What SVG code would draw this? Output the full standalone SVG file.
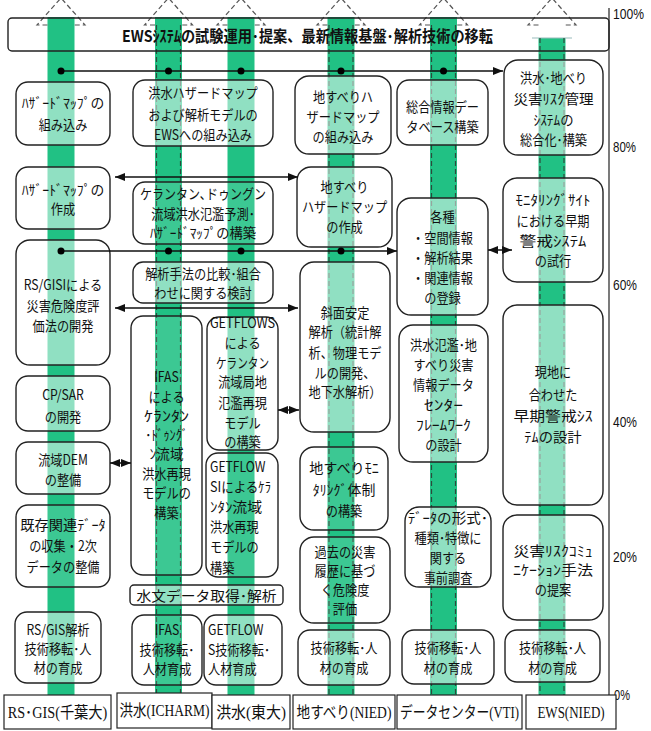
<svg xmlns="http://www.w3.org/2000/svg" width="651" height="731" viewBox="0 0 651 731">
<defs>
<style>
.bar{fill:#21c184}
.dsh{stroke:#2d4a3c;stroke-width:1.2;stroke-dasharray:5 3;fill:none}
.ah{stroke:#555;stroke-width:1.2;stroke-dasharray:5 3;fill:none}
.b{fill:#fff;fill-opacity:.5;stroke:#222;stroke-width:1.4}
.c{fill:#fff;fill-opacity:.12;stroke:#222;stroke-width:1.4}
.t text{font-family:"Noto Sans CJK JP",sans-serif;font-size:14px;text-anchor:middle;fill:#111}
.tl text{font-family:"Noto Sans CJK JP",sans-serif;font-size:14px;text-anchor:start;fill:#111}
.lab rect{fill:#fff;stroke:#222;stroke-width:1.2}
.lab text{font-family:"Liberation Serif","Noto Sans CJK JP",serif;font-size:16px;text-anchor:middle;fill:#111}
.pct{font-family:"Liberation Sans","Noto Sans CJK JP",sans-serif;font-size:15px;fill:#111}
.cn{stroke:#111;stroke-width:1.5;fill:none}
</style>
<marker id="arr" viewBox="0 0 10 8" markerWidth="10" markerHeight="8" refX="10" refY="4" orient="auto-start-reverse" markerUnits="userSpaceOnUse"><path d="M0,0 L10,4 L0,8 z" fill="#111"/></marker>
</defs>
<rect width="651" height="731" fill="#fff"/>

<g id="bars">
<rect class="bar" x="47.5" y="17" width="27" height="678"/>
<rect class="bar" x="155" y="17" width="27" height="678"/>
<rect class="bar" x="227.5" y="17" width="27" height="678"/>
<rect class="bar" x="327.5" y="17" width="27" height="678"/>
<rect class="bar" x="430" y="17" width="27" height="678"/>
<rect class="bar" x="538.5" y="38" width="27" height="657"/>
<line x1="532" y1="38" x2="572" y2="38" stroke="#9bb" stroke-width="1"/>
<polyline class="ah" points="47.5,25 37,25 61,-2 85,25 74.5,25"/>
<polyline class="ah" points="155,25 144.5,25 168.5,-2 192.5,25 182,25"/>
<polyline class="ah" points="227.5,25 217,25 241,-2 265,25 254.5,25"/>
<polyline class="ah" points="327.5,25 317,25 341,-2 365,25 354.5,25"/>
<polyline class="ah" points="430,25 419.5,25 443.5,-2 467.5,25 457,25"/>
<polyline class="ah" points="538.5,25 528,25 552,-2 576,25 565.5,25"/>
<line class="dsh" x1="156.5" y1="25" x2="156.5" y2="695"/>
<line class="dsh" x1="180.5" y1="25" x2="180.5" y2="695"/>
<line class="dsh" x1="329" y1="25" x2="329" y2="695"/>
<line class="dsh" x1="353" y1="25" x2="353" y2="695"/>
<line class="dsh" x1="431.5" y1="25" x2="431.5" y2="695"/>
<line class="dsh" x1="455.5" y1="25" x2="455.5" y2="695"/>
<line class="dsh" x1="540" y1="38" x2="540" y2="695"/>
<line class="dsh" x1="564" y1="38" x2="564" y2="695"/>
</g>

<g id="axis">
<line x1="609" y1="8" x2="609" y2="697" stroke="#222" stroke-width="1.2"/>
<text class="pct" x="613" y="19" textLength="31" lengthAdjust="spacingAndGlyphs">100%</text>
<text class="pct" x="613" y="152" textLength="23" lengthAdjust="spacingAndGlyphs">80%</text>
<text class="pct" x="613" y="290" textLength="24" lengthAdjust="spacingAndGlyphs">60%</text>
<text class="pct" x="613" y="427" textLength="24" lengthAdjust="spacingAndGlyphs">40%</text>
<text class="pct" x="613" y="562" textLength="24" lengthAdjust="spacingAndGlyphs">20%</text>
<text class="pct" x="614" y="700" textLength="16" lengthAdjust="spacingAndGlyphs">0%</text>
</g>

<g id="title">
<rect x="8" y="18" width="601" height="33" rx="4" fill="none" stroke="#222" stroke-width="1.4"/>
<text x="307.5" y="42" font-family="Noto Sans CJK JP,sans-serif" font-size="16" font-weight="bold" text-anchor="middle" textLength="371" lengthAdjust="spacingAndGlyphs" fill="#111">EWSｼｽﾃﾑの試験運用･提案、最新情報基盤･解析技術の移転</text>
</g>

<g id="n1a"><rect class="b" x="16" y="82" width="94" height="63" rx="12"/><g class="t" transform="translate(63,0) scale(.87,1)"><text y="108" textLength="95" lengthAdjust="spacingAndGlyphs">ﾊｻﾞｰﾄﾞﾏｯﾌﾟの</text><text y="130">組み込み</text></g></g>
<g id="n1b"><rect class="b" x="16" y="167" width="94" height="62" rx="12"/><g class="t" transform="translate(63,0) scale(.87,1)"><text y="195" textLength="95" lengthAdjust="spacingAndGlyphs">ﾊｻﾞｰﾄﾞﾏｯﾌﾟの</text><text y="214">作成</text></g></g>
<g id="n1c"><rect class="b" x="16" y="240" width="94" height="125" rx="14"/><g class="t" transform="translate(63,0) scale(.87,1)"><text y="290">RS/GISIによる</text><text y="311">災害危険度評</text><text y="331">価法の開発</text></g></g>
<g id="n1d"><rect class="b" x="16" y="376" width="94" height="55" rx="12"/><g class="t" transform="translate(63,0) scale(.87,1)"><text y="400">CP/SAR</text><text y="422">の開発</text></g></g>
<g id="n1e"><rect class="b" x="16" y="442" width="94" height="52" rx="12"/><g class="t" transform="translate(63,0) scale(.87,1)"><text y="465">流域DEM</text><text y="485">の整備</text></g></g>
<g id="n1f"><rect class="c" x="16" y="505" width="94" height="82" rx="12"/><g class="t" transform="translate(63,0) scale(.87,1)"><text y="530" textLength="98" lengthAdjust="spacingAndGlyphs">既存関連ﾃﾞｰﾀ</text><text y="551">の収集・2次</text><text y="572">データの整備</text></g></g>
<g id="n1g"><rect class="b" x="15" y="612" width="86" height="71" rx="12"/><g class="t" transform="translate(58,0) scale(.87,1)"><text y="635">RS/GIS解析</text><text y="654">技術移転･人</text><text y="673">材の育成</text></g></g>

<g id="n2a"><rect class="b" x="133" y="80" width="140" height="66" rx="12"/><g class="t" transform="translate(203,0) scale(.87,1)"><text y="98">洪水ハザードマップ</text><text y="120">および解析モデルの</text><text y="140">EWSへの組み込み</text></g></g>
<g id="n2b"><rect class="c" x="133" y="182" width="140" height="62" rx="12"/><g class="t" transform="translate(203,0) scale(.87,1)"><text y="199" textLength="145" lengthAdjust="spacingAndGlyphs">ケランタン､ドゥングン</text><text y="219">流域洪水氾濫予測･</text><text y="238" textLength="122" lengthAdjust="spacingAndGlyphs">ﾊｻﾞｰﾄﾞﾏｯﾌﾟの構築</text></g></g>
<g id="n2c"><rect class="b" x="133" y="262" width="140" height="41" rx="10"/><g class="t" transform="translate(203,0) scale(.87,1)"><text y="279">解析手法の比較･組合</text><text y="298">わせに関する検討</text></g></g>
<g id="n2d"><rect class="c" x="131" y="316" width="71" height="259" rx="12"/><g class="t" transform="translate(166.5,0) scale(.87,1)"><text y="382">IFAS</text><text y="402">による</text><text y="421" textLength="52" lengthAdjust="spacingAndGlyphs">ｹﾗﾝﾀﾝ</text><text y="440" textLength="49" lengthAdjust="spacingAndGlyphs">･ﾄﾞｩﾝｸﾞ</text><text y="459" textLength="39" lengthAdjust="spacingAndGlyphs">ﾝ流域</text><text y="479">洪水再現</text><text y="498">モデルの</text><text y="518">構築</text></g></g>
<g id="n3a"><rect class="b" x="207" y="317" width="71" height="133" rx="12"/><g class="t" transform="translate(242.5,0) scale(.87,1)"><text y="328" textLength="75" lengthAdjust="spacingAndGlyphs">GETFLOWS</text><text y="348">による</text><text y="368" textLength="61" lengthAdjust="spacingAndGlyphs">ケランタン</text><text y="387">流域局地</text><text y="408">氾濫再現</text><text y="428">モデル</text><text y="447">の構築</text></g></g>
<g id="n3b"><rect class="c" x="206" y="453" width="72" height="124" rx="12"/><g class="tl" transform="translate(210,0) scale(.87,1)"><text y="472">GETFLOW</text><text y="492" textLength="70" lengthAdjust="spacingAndGlyphs">SIによるｹﾗ</text><text y="512" textLength="60" lengthAdjust="spacingAndGlyphs">ﾝﾀﾝ流域</text><text y="532">洪水再現</text><text y="552">モデルの</text><text y="573">構築</text></g></g>
<g id="n2e"><rect class="b" x="130" y="585" width="153" height="20" rx="4"/><g class="t" transform="translate(206.5,0) scale(.87,1)"><text y="601" textLength="161" lengthAdjust="spacingAndGlyphs">水文データ取得･解析</text></g></g>
<g id="n2f"><rect class="c" x="132" y="615" width="70" height="70" rx="12"/><g class="t" transform="translate(167,0) scale(.87,1)"><text y="635">IFAS</text><text y="655">技術移転･</text><text y="674">人材育成</text></g></g>
<g id="n3c"><rect class="b" x="204" y="615" width="78" height="70" rx="12"/><g class="tl" transform="translate(208,0) scale(.87,1)"><text y="635">GETFLOW</text><text y="655">S技術移転･</text><text y="674">人材育成</text></g></g>

<g id="n4a"><rect class="b" x="295" y="76" width="96" height="78" rx="14"/><g class="t" transform="translate(343,0) scale(.87,1)"><text y="102">地すべりハ</text><text y="122">ザードマップ</text><text y="142">の組み込み</text></g></g>
<g id="n4b"><rect class="b" x="297" y="167" width="95" height="80" rx="14"/><g class="t" transform="translate(344.5,0) scale(.87,1)"><text y="192">地すべり</text><text y="212">ハザードマップ</text><text y="232">の作成</text></g></g>
<g id="n4c"><rect class="b" x="300" y="262" width="90" height="170" rx="14"/><g class="t" transform="translate(345,0) scale(.87,1)"><text y="318">斜面安定</text><text y="337">解析（統計解</text><text y="358">析、物理モデ</text><text y="378">ルの開発、</text><text y="397">地下水解析）</text></g></g>
<g id="n4d"><rect class="c" x="300" y="447" width="88" height="83" rx="14"/><g class="t" transform="translate(344,0) scale(.87,1)"><text y="473" textLength="80" lengthAdjust="spacingAndGlyphs">地すべりﾓﾆ</text><text y="495" textLength="72" lengthAdjust="spacingAndGlyphs">ﾀﾘﾝｸﾞ体制</text><text y="516">の構築</text></g></g>
<g id="n4e"><rect class="c" x="300" y="537" width="90" height="86" rx="14"/><g class="t" transform="translate(345,0) scale(.87,1)"><text y="557">過去の災害</text><text y="576">履歴に基づ</text><text y="595">く危険度</text><text y="614">評価</text></g></g>
<g id="n4f"><rect class="b" x="298" y="630" width="92" height="55" rx="12"/><g class="t" transform="translate(344,0) scale(.87,1)"><text y="653">技術移転･人</text><text y="673">材の育成</text></g></g>

<g id="n5a"><rect class="b" x="397" y="80" width="91" height="65" rx="12"/><g class="t" transform="translate(442.5,0) scale(.87,1)"><text y="112">総合情報デー</text><text y="132">タベース構築</text></g></g>
<g id="n5b"><rect class="b" x="397" y="198" width="91" height="117" rx="14"/><g class="t" transform="translate(442.5,0) scale(.87,1)"><text y="222">各種</text><text y="243">・空間情報</text><text y="263">・解析結果</text><text y="283">・関連情報</text><text y="303">の登録</text></g></g>
<g id="n5c"><rect class="b" x="399" y="325" width="89" height="137" rx="14"/><g class="t" transform="translate(443.5,0) scale(.87,1)"><text y="350">洪水氾濫･地</text><text y="370">すべり災害</text><text y="390">情報データ</text><text y="410" textLength="45" lengthAdjust="spacingAndGlyphs">ｾﾝﾀｰ</text><text y="430" textLength="63" lengthAdjust="spacingAndGlyphs">ﾌﾚｰﾑﾜｰｸ</text><text y="450">の設計</text></g></g>
<g id="n5d"><rect class="b" x="405" y="507" width="86" height="80" rx="14"/><g class="t" transform="translate(448,0) scale(.87,1)"><text y="523" textLength="92" lengthAdjust="spacingAndGlyphs">ﾃﾞｰﾀの形式･</text><text y="543">種類･特徴に</text><text y="563">関する</text><text y="583">事前調査</text></g></g>
<g id="n5e"><rect class="b" x="402" y="630" width="92" height="54" rx="12"/><g class="t" transform="translate(448,0) scale(.87,1)"><text y="653">技術移転･人</text><text y="673">材の育成</text></g></g>

<g id="n6a"><rect class="b" x="504" y="60" width="99" height="95" rx="14"/><g class="t" transform="translate(553.5,0) scale(.87,1)"><text y="83">洪水･地べり</text><text y="104" textLength="92" lengthAdjust="spacingAndGlyphs">災害ﾘｽｸ管理</text><text y="125" textLength="46" lengthAdjust="spacingAndGlyphs">ｼｽﾃﾑの</text><text y="145">総合化･構築</text></g></g>
<g id="n6b"><rect class="b" x="503" y="178" width="100" height="104" rx="14"/><g class="t" transform="translate(553,0) scale(.87,1)"><text y="205" textLength="86" lengthAdjust="spacingAndGlyphs">ﾓﾆﾀﾘﾝｸﾞｻｲﾄ</text><text y="226">における早期</text><text y="246" textLength="77" lengthAdjust="spacingAndGlyphs">警戒ｼｽﾃﾑ</text><text y="266">の試行</text></g></g>
<g id="n6c"><rect class="b" x="503" y="305" width="100" height="200" rx="14"/><g class="t" transform="translate(553,0) scale(.87,1)"><text y="377">現地に</text><text y="400">合わせた</text><text y="421" textLength="91" lengthAdjust="spacingAndGlyphs">早期警戒ｼｽ</text><text y="442" textLength="66" lengthAdjust="spacingAndGlyphs">ﾃﾑの設計</text></g></g>
<g id="n6d"><rect class="b" x="503" y="515" width="100" height="105" rx="14"/><g class="t" transform="translate(553,0) scale(.87,1)"><text y="556" textLength="91" lengthAdjust="spacingAndGlyphs">災害ﾘｽｸｺﾐｭ</text><text y="575" textLength="92" lengthAdjust="spacingAndGlyphs">ﾆｹｰｼｮﾝ手法</text><text y="595">の提案</text></g></g>
<g id="n6e"><rect class="b" x="505" y="630" width="95" height="52" rx="12"/><g class="t" transform="translate(552.5,0) scale(.87,1)"><text y="653">技術移転･人</text><text y="673">材の育成</text></g></g>

<g id="labels" class="lab">
<g id="lab1"><rect x="4" y="695" width="107" height="34"/><g transform="translate(57.5,718) scale(.89,1)"><text x="0" y="0" textLength="112" lengthAdjust="spacingAndGlyphs">RS･GIS(千葉大)</text></g></g>
<g id="lab2"><rect x="117" y="693" width="95" height="35"/><g transform="translate(164.5,716) scale(.84,1)"><text x="0" y="0" textLength="107" lengthAdjust="spacingAndGlyphs">洪水(ICHARM)</text></g></g>
<g id="lab3"><rect x="212" y="695" width="78" height="34"/><g transform="translate(251,718) scale(.93,1)"><text x="0" y="0" textLength="75" lengthAdjust="spacingAndGlyphs">洪水(東大)</text></g></g>
<g id="lab4"><rect x="293" y="695" width="102" height="34"/><g transform="translate(344,718) scale(.84,1)"><text x="0" y="0" textLength="113" lengthAdjust="spacingAndGlyphs">地すべり(NIED)</text></g></g>
<g id="lab5"><rect x="397" y="695" width="125" height="34"/><g transform="translate(459.5,718) scale(.8,1)"><text x="0" y="0" textLength="149" lengthAdjust="spacingAndGlyphs">データセンター(VTI)</text></g></g>
<g id="lab6"><rect x="526" y="695" width="90" height="34"/><g transform="translate(571,718) scale(.81,1)"><text x="0" y="0" textLength="83" lengthAdjust="spacingAndGlyphs">EWS(NIED)</text></g></g>
</g>

<g id="connectors">
<path class="cn" d="M61,71 H503" marker-end="url(#arr)"/>
<circle cx="61" cy="71" r="3.5"/><circle cx="168.5" cy="71" r="3.5"/><circle cx="241" cy="71" r="3.5"/><circle cx="341" cy="71" r="3.5"/><circle cx="443.5" cy="71" r="3.5"/>
<path class="cn" d="M61,251 H397" marker-end="url(#arr)"/>
<circle cx="61" cy="251" r="3.5"/><circle cx="168.5" cy="251" r="3.5"/><circle cx="241" cy="251" r="3.5"/><circle cx="341" cy="251" r="3.5"/>
<path class="cn" d="M115,177 H298" marker-start="url(#arr)" marker-end="url(#arr)"/>
<path class="cn" d="M115,308 H298" marker-start="url(#arr)" marker-end="url(#arr)"/>
<path class="cn" d="M488,250 H512" marker-start="url(#arr)" marker-end="url(#arr)"/>
<path class="cn" d="M110,463 H131" marker-start="url(#arr)" marker-end="url(#arr)"/>
<path class="cn" d="M278,410 H299" marker-start="url(#arr)" marker-end="url(#arr)"/>
</g>
</svg>
